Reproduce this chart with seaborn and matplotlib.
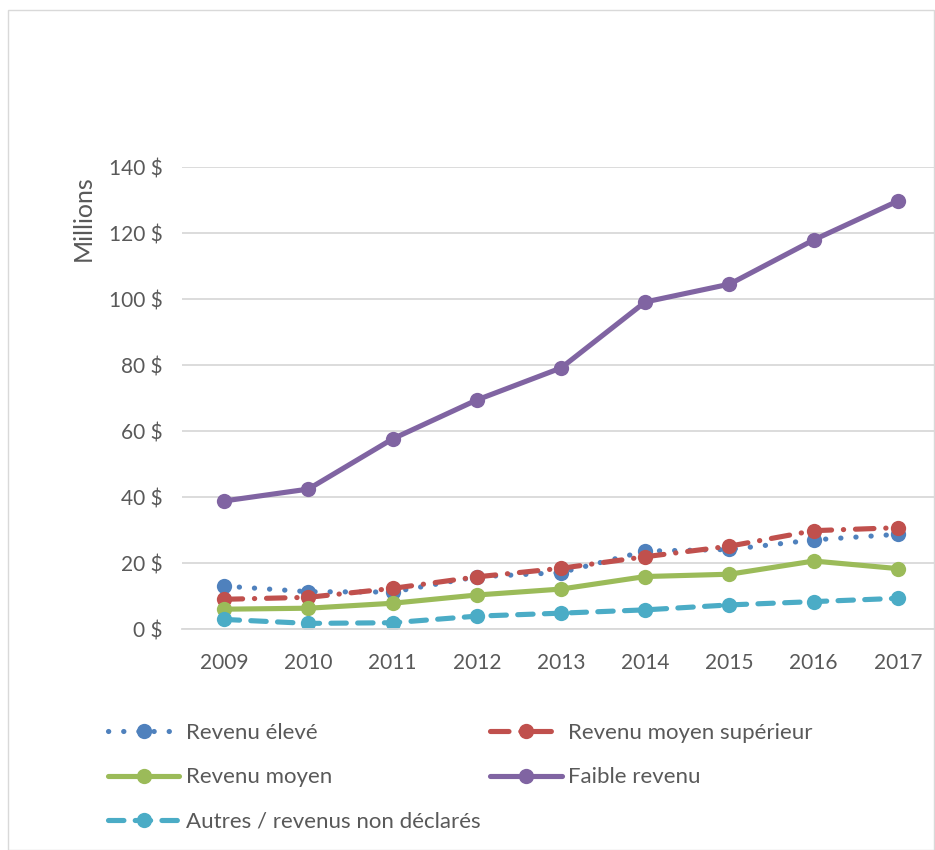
import matplotlib
matplotlib.use("Agg")
import matplotlib.pyplot as plt
import seaborn as sns
import pandas as pd
from matplotlib.patches import Rectangle

years = [2009, 2010, 2011, 2012, 2013, 2014, 2015, 2016, 2017]
revenu_eleve = [13.0, 11.3, 11.2, 15.8, 17.1, 23.6, 24.1, 27.0, 28.7]
revenu_moyen_sup = [9.0, 9.6, 12.3, 15.8, 18.4, 21.9, 25.1, 29.8, 30.7]
revenu_moyen = [6.0, 6.3, 7.8, 10.3, 12.1, 15.9, 16.6, 20.6, 18.3]
faible_revenu = [38.8, 42.4, 57.6, 69.4, 79.1, 99.1, 104.5, 117.9, 129.7]
autres = [2.9, 1.7, 1.9, 3.9, 4.8, 5.8, 7.3, 8.3, 9.3]
y_ticks = [0, 20, 40, 60, 80, 100, 120, 140]

sns.set_theme(style="white")
plt.rcParams['font.family'] = ['Lato', 'DejaVu Sans']

fig = plt.figure(figsize=(9.35, 8.5), dpi=100)
W, H = 935, 850
ax = fig.add_axes([182 / W, 1 - 629 / H, (935 - 182) / W, (629 - 167) / H])

series = [
    ("Revenu élevé", revenu_eleve, "#4F81BD", (0, (0.05, 2.9))),
    ("Revenu moyen supérieur", revenu_moyen_sup, "#C0504D", (0, (3.6, 2.3, 0.05, 2.3))),
    ("Revenu moyen", revenu_moyen, "#9BBB59", "-"),
    ("Faible revenu", faible_revenu, "#8064A2", "-"),
    ("Autres / revenus non déclarés", autres, "#4BACC6", (0, (3.0, 2.2))),
]

for name, vals, col, ls in series:
    df = pd.DataFrame({"annee": years, "valeur": vals})
    sns.lineplot(data=df, x="annee", y="valeur", ax=ax, color=col, linestyle=ls,
                 linewidth=3.7, marker="o", markersize=11, markeredgewidth=0,
                 dash_capstyle="round", solid_capstyle="round", label=name,
                 legend=False)

ax.set_xlim(2008.5, 2017.44)
ax.set_ylim(0, 140)
ax.set_xticks(years)
ax.set_xticklabels([str(y) for y in years])
ax.set_yticks(y_ticks)
ax.set_yticklabels([f"{v} $" for v in y_ticks])
ax.yaxis.grid(True, color="#D9D9D9", linewidth=1.3)
ax.set_axisbelow(True)
for s in ["top", "right", "left"]:
    ax.spines[s].set_visible(False)
ax.spines["bottom"].set_color("#D9D9D9")
ax.spines["bottom"].set_linewidth(1.3)
ax.tick_params(axis="both", length=0, labelsize=15, colors="#595959")
ax.tick_params(axis="x", pad=17)
ax.tick_params(axis="y", pad=14)
ax.set_xlabel("")
ax.set_ylabel("")

fig.text(83 / W, 1 - 218 / H, "Millions", rotation=90, ha="center", va="center",
         fontsize=18, color="#595959")

handles, labels = ax.get_legend_handles_labels()
order = [0, 2, 4, 1, 3]
leg = fig.legend([handles[i] for i in order], [labels[i] for i in order],
                 loc="upper left", bbox_to_anchor=(88 / W, 1 - 703 / H), ncol=2,
                 frameon=False, fontsize=16, handlelength=3.2, handletextpad=0.3,
                 labelspacing=1.1, columnspacing=0.45, numpoints=1)
for t in leg.get_texts():
    t.set_color("#595959")

fig.patches.append(Rectangle((8 / W, 0), 1 - 8 / W - 1 / W, 1 - 10 / H,
                             transform=fig.transFigure, fill=False,
                             edgecolor="#D9D9D9", linewidth=1))

fig.savefig("out.png", dpi=100)
